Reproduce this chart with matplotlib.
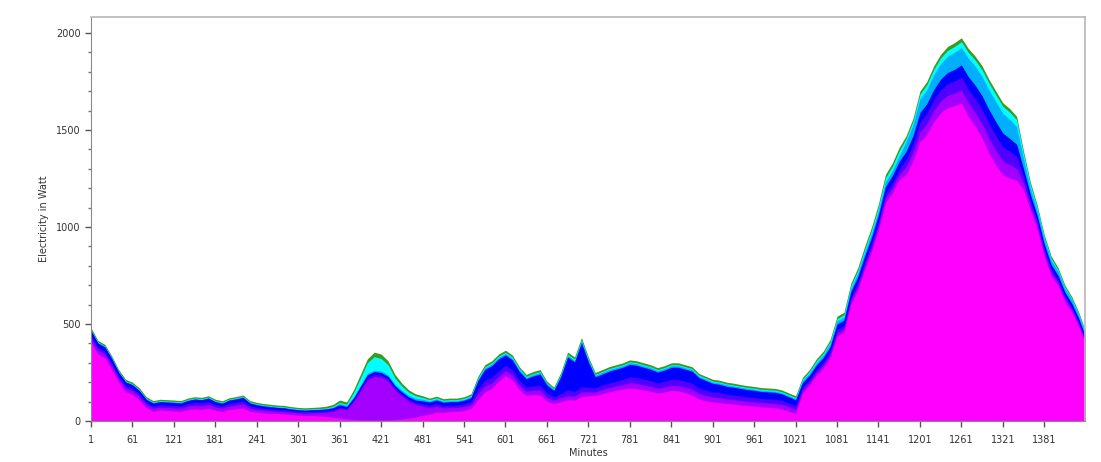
import matplotlib

matplotlib.use('Agg')

import matplotlib.pyplot as plt
import numpy as np
from matplotlib.ticker import MultipleLocator

# minutes of the day, sampled every 10 minutes (last sample at 1440)
MINUTES = np.r_[np.arange(1, 1440, 10), 1440]

# upper edge of each colour band, in watt
TOTAL = [
    480, 415, 395, 335, 265, 215, 200, 170, 125, 105, 112, 110,
    108, 105, 118, 125, 122, 130, 112, 104, 120, 126, 134, 105,
    96, 90, 86, 82, 80, 74, 70, 68, 70, 72, 76, 85,
    108, 98, 160, 240, 320, 355, 345, 310, 240, 195, 160, 140,
    130, 118, 128, 115, 118, 118, 125, 140, 230, 290, 310, 345,
    365, 340, 280, 240, 255, 265, 205, 175, 250, 355, 330, 430,
    330, 250, 265, 280, 290, 300, 315, 310, 300, 290, 275, 285,
    300, 300, 290, 280, 245, 230, 215, 210, 200, 195, 188, 182,
    178, 172, 170, 168, 160, 145, 130, 225, 265, 320, 360, 420,
    540, 560, 710, 790, 900, 1000, 1120, 1270, 1330, 1410, 1470, 1560,
    1700, 1750, 1830, 1890, 1930, 1950, 1975, 1920, 1880, 1830, 1760, 1700,
    1640, 1610, 1570, 1390, 1230, 1110, 960, 850, 790, 700, 640, 560,
    470,
]
CYAN_TOP = [
    470, 407, 387, 327, 257, 207, 192, 162, 117, 98, 105, 103,
    101, 98, 111, 118, 115, 123, 105, 97, 113, 119, 127, 98,
    89, 83, 79, 75, 73, 67, 63, 61, 63, 64, 67, 75,
    96, 86, 145, 222, 300, 332, 322, 290, 222, 180, 148, 130,
    121, 110, 120, 107, 110, 110, 117, 131, 220, 279, 299, 334,
    354, 329, 270, 230, 245, 255, 196, 167, 240, 344, 319, 418,
    319, 240, 255, 270, 280, 290, 305, 300, 290, 280, 265, 275,
    290, 290, 280, 270, 236, 221, 206, 201, 191, 186, 179, 173,
    169, 163, 161, 159, 151, 136, 121, 215, 255, 309, 349, 408,
    527, 547, 696, 775, 884, 984, 1103, 1252, 1312, 1392, 1455, 1544,
    1684, 1733, 1812, 1871, 1910, 1930, 1955, 1900, 1860, 1810, 1741, 1681,
    1622, 1592, 1553, 1375, 1216, 1097, 948, 838, 779, 690, 630, 551,
    462,
]
AZURE_TOP = [
    468, 404, 384, 324, 254, 204, 189, 159, 114, 95, 102, 100,
    98, 95, 108, 115, 112, 120, 102, 94, 110, 116, 124, 95,
    86, 80, 76, 72, 70, 64, 60, 58, 60, 61, 64, 71,
    90, 80, 125, 185, 245, 262, 258, 238, 190, 158, 132, 118,
    112, 104, 114, 102, 105, 105, 112, 126, 214, 273, 293, 328,
    348, 323, 264, 225, 240, 250, 192, 163, 235, 338, 313, 412,
    313, 235, 250, 265, 275, 285, 300, 295, 285, 275, 260, 270,
    285, 285, 275, 265, 231, 216, 201, 196, 186, 181, 174, 168,
    164, 158, 156, 154, 146, 131, 116, 208, 247, 300, 340, 398,
    516, 536, 684, 762, 870, 968, 1086, 1232, 1290, 1366, 1440, 1526,
    1660, 1708, 1785, 1842, 1880, 1900, 1925, 1870, 1828, 1776, 1706, 1645,
    1586, 1555, 1518, 1350, 1196, 1082, 936, 828, 770, 682, 623, 544,
    456,
]
BLUE_TOP = [
    466, 402, 382, 322, 252, 202, 187, 157, 112, 93, 100, 98,
    96, 93, 106, 113, 110, 118, 100, 92, 108, 114, 122, 93,
    84, 78, 74, 70, 68, 62, 58, 56, 58, 59, 62, 68,
    84, 74, 118, 178, 238, 255, 250, 230, 182, 150, 124, 108,
    104, 98, 108, 97, 100, 100, 107, 121, 208, 266, 285, 320,
    340, 315, 256, 218, 232, 242, 186, 158, 228, 330, 305, 404,
    305, 228, 242, 257, 267, 277, 292, 287, 277, 267, 252, 262,
    277, 277, 267, 257, 224, 209, 194, 189, 179, 174, 168, 162,
    158, 152, 150, 148, 140, 125, 110, 198, 236, 288, 327, 384,
    500, 520, 667, 744, 851, 948, 1064, 1208, 1264, 1338, 1390, 1470,
    1590, 1635, 1708, 1762, 1796, 1812, 1835, 1775, 1730, 1676, 1604, 1542,
    1484, 1456, 1426, 1300, 1166, 1056, 912, 806, 750, 663, 605, 528,
    442,
]
INDIGO_TOP = [
    440, 380, 360, 300, 232, 184, 170, 140, 96, 78, 85, 83,
    81, 78, 90, 96, 94, 100, 85, 78, 92, 97, 104, 79,
    71, 66, 63, 60, 58, 53, 50, 48, 50, 51, 53, 58,
    72, 64, 108, 165, 225, 242, 238, 218, 170, 138, 112, 96,
    88, 82, 90, 80, 82, 82, 88, 100, 165, 210, 225, 258,
    288, 265, 210, 175, 180, 185, 145, 125, 140, 160, 150, 175,
    175, 170, 185, 195, 205, 215, 228, 224, 216, 208, 196, 204,
    215, 215, 205, 195, 170, 160, 150, 146, 138, 134, 129, 124,
    121, 116, 114, 112, 106, 93, 80, 175, 214, 265, 303, 360,
    472, 492, 638, 714, 820, 916, 1030, 1172, 1226, 1298, 1350, 1428,
    1540, 1585, 1655, 1706, 1738, 1752, 1772, 1710, 1662, 1606, 1532, 1470,
    1414, 1390, 1364, 1262, 1136, 1030, 888, 784, 730, 644, 588, 512,
    428,
]
PURPLE_TOP = [
    425, 365, 345, 285, 218, 170, 156, 126, 84, 66, 72, 70,
    68, 66, 77, 82, 80, 86, 72, 66, 78, 83, 89, 67,
    60, 56, 53, 50, 49, 45, 42, 40, 42, 43, 45, 50,
    64, 58, 100, 155, 212, 230, 226, 206, 160, 128, 102, 86,
    76, 70, 76, 68, 70, 70, 75, 85, 140, 180, 195, 230,
    260, 238, 186, 154, 158, 160, 124, 108, 120, 130, 128, 150,
    150, 150, 162, 172, 180, 188, 198, 194, 186, 180, 168, 175,
    184, 182, 174, 164, 142, 132, 124, 120, 114, 111, 106, 102,
    99, 95, 93, 91, 86, 74, 60, 160, 200, 250, 288, 344,
    455, 475, 620, 696, 800, 896, 1008, 1150, 1202, 1272, 1310, 1385,
    1490, 1532, 1600, 1648, 1678, 1690, 1706, 1640, 1590, 1532, 1456, 1394,
    1340, 1320, 1302, 1225, 1112, 1008, 868, 766, 714, 630, 574, 500,
    418,
]
MAGENTA_TOP = [
    405, 345, 325, 265, 200, 150, 138, 108, 68, 50, 56, 54,
    52, 50, 58, 62, 60, 66, 55, 50, 60, 63, 68, 50,
    45, 42, 40, 38, 36, 33, 30, 28, 28, 26, 24, 20,
    15, 10, 8, 6, 5, 5, 5, 5, 8, 10, 15, 20,
    30, 35, 45, 45, 48, 50, 55, 65, 110, 150, 168, 205,
    235, 212, 162, 132, 136, 135, 102, 90, 100, 110, 108, 125,
    130, 132, 140, 150, 158, 164, 170, 166, 160, 154, 144, 150,
    158, 155, 146, 135, 114, 104, 98, 95, 90, 88, 83, 80,
    77, 73, 71, 68, 62, 50, 38, 145, 186, 236, 272, 328,
    438, 458, 602, 676, 780, 874, 985, 1125, 1176, 1245, 1270, 1340,
    1440, 1478, 1542, 1588, 1615, 1625, 1638, 1570, 1518, 1458, 1380, 1318,
    1268, 1252, 1240, 1190, 1086, 986, 848, 748, 698, 614, 560, 486,
    406,
]

# bands are painted from the outermost edge down to the base
BANDS = [
    (TOTAL, '#3c9a1e'),
    (CYAN_TOP, '#00ffff'),
    (AZURE_TOP, '#00b0ff'),
    (BLUE_TOP, '#0000ff'),
    (INDIGO_TOP, '#5000ff'),
    (PURPLE_TOP, '#a400ff'),
    (MAGENTA_TOP, '#ff00ff'),
]

XTICKS = list(range(1, 1440, 60))

fig = plt.figure(figsize=(11.01, 4.62), dpi=100)
ax = fig.add_axes([91 / 1101, 1 - 421 / 462, 994 / 1101, 404 / 462])

for edge, color in BANDS:
    ax.fill_between(MINUTES, 0, edge, color=color, linewidth=0)

ax.set_xlim(1, 1440)
ax.set_ylim(0, 2082)

ax.set_xticks(XTICKS)
ax.yaxis.set_major_locator(MultipleLocator(500))
ax.yaxis.set_minor_locator(MultipleLocator(100))

ax.tick_params(axis='both', which='major', labelsize=7, colors='#555555', labelcolor='#333333', length=4, width=1)
ax.tick_params(axis='x', which='major', pad=6)
ax.tick_params(axis='y', which='minor', length=2.5, width=1, colors='#777777')

for side in ('left', 'bottom'):
    ax.spines[side].set_color('#8a8a8a')
for side in ('top', 'right'):
    ax.spines[side].set_color('#b8b8b8')
    ax.spines[side].set_linewidth(1.2)

ax.set_xlabel('Minutes', fontsize=7, color='#333333', labelpad=2)
ax.set_ylabel('Electricity in Watt', fontsize=7, color='#333333', labelpad=5)

fig.savefig('out.png', dpi=100)
